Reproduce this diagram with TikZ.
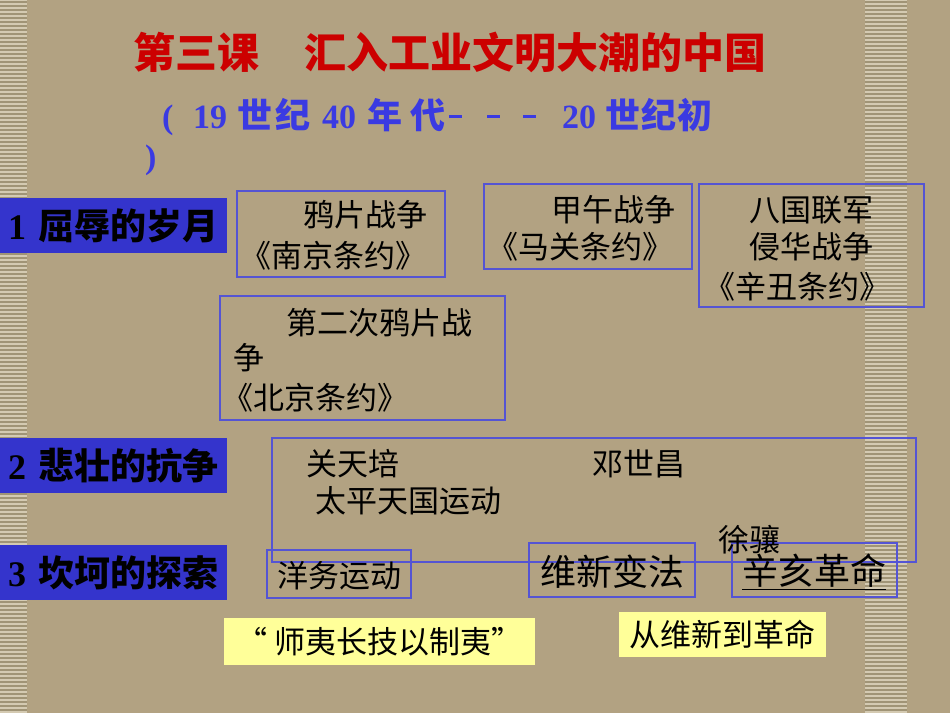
\documentclass[tikz,border=0pt]{standalone}
\usepackage{fontspec}
\setmainfont{Liberation Serif}
\newfontfamily\cjk[RawFeature=+halt]{Noto Sans CJK SC}
\usetikzlibrary{positioning}

\definecolor{bgtan}{RGB}{178,162,130}
\definecolor{stripetan}{RGB}{212,202,178}
\definecolor{stripeline}{RGB}{160,148,118}
\definecolor{labelblue}{RGB}{52,52,204}
\definecolor{boxblue}{RGB}{84,84,212}
\definecolor{titlered}{RGB}{204,0,0}
\definecolor{subblue}{RGB}{58,58,226}
\definecolor{noteyellow}{RGB}{255,255,153}

% one piece of the period line, set in a box of given width
\newcommand{\pc}[2]{\makebox[#1pt][l]{#2}}
\newcommand{\zh}[2]{\makebox[#1pt][l]{\cjk\fontsize{35}{40}\selectfont #2}}
\newcommand{\dsh}{\rule[10pt]{13pt}{3pt}}

\tikzset{
	labelbox/.style={fill=labelblue, anchor=north west, minimum width=227pt, minimum height=55pt,
		inner xsep=8pt, inner ysep=0pt, text width=211pt, align=left, font=\fontsize{36}{40}\selectfont\bfseries},
	eventbox/.style={draw=boxblue, line width=1.1pt, inner sep=0pt},
	notebox/.style={fill=noteyellow, inner sep=0pt, font=\cjk\fontsize{31}{36}\selectfont},
	evtext/.style={anchor=west, inner sep=0pt, font=\cjk\fontsize{31}{36}\selectfont},
	bigtext/.style={anchor=west, inner sep=0pt, font=\cjk\fontsize{36}{40}\selectfont},
}

\begin{document}
\begin{tikzpicture}[x=1pt,y=-1pt]
	\useasboundingbox (0,0) rectangle (950,713);
	\fill[bgtan] (0,0) rectangle (950,713);
	% striped side bands
	\fill[stripetan] (0,0) rectangle (27,713);
	\fill[stripetan] (865,0) rectangle (907,713);
	\foreach \y in {2,6,...,713} {
		\draw[stripeline, line width=1.6pt] (0,\y) -- (27,\y);
		\draw[stripeline, line width=1.6pt] (865,\y) -- (907,\y);
	}

	% title
	\node[anchor=west, inner sep=0pt, text=titlered, font=\cjk\fontsize{42}{46}\selectfont\bfseries] (title)
		at (133,52) {第三课\hspace{45pt}汇入工业文明大潮的中国};
	\node[anchor=north west, inner sep=0pt, align=left, text=subblue, font=\fontsize{34}{40}\selectfont\bfseries] (period)
		at (145,98) {\hspace*{17pt}\pc{31}{(}\pc{44}{19}\zh{38}{世}\zh{47}{纪}\pc{45}{40}\zh{43}{年}\zh{39}{代}%
		\pc{113}{\dsh\hspace{25pt}\dsh\hspace{23pt}\dsh}\pc{43}{20}\zh{36}{世}\zh{36}{纪}\zh{36}{初}\\)};

	% left labels
	\node[labelbox] (lab1) at (0,198) {1 {\cjk 屈辱的岁月}};
	\node[labelbox] (lab2) at (0,438) {2 {\cjk 悲壮的抗争}};
	\node[labelbox] (lab3) at (0,545) {3 {\cjk 坎坷的探索}};

	% boxes
	\node[eventbox, minimum width=208pt, minimum height=86pt] (opium) at (341,234) {};
	\node[eventbox, minimum width=208pt, minimum height=85pt] (jiawu) at (588,226.5) {};
	\node[eventbox, minimum width=225pt, minimum height=123pt] (baguo) at (811.5,245.5) {};
	\node[eventbox, minimum width=285pt, minimum height=124pt] (opium2) at (362.5,358) {};
	\node[eventbox, minimum width=644pt, minimum height=124pt] (resist) at (594,500) {};
	\node[eventbox, minimum width=144pt, minimum height=48pt] (yangwu) at (339,574) {};
	\node[eventbox, minimum width=166pt, minimum height=54pt] (weixin) at (612,570) {};
	\node[eventbox, minimum width=165pt, minimum height=54pt] (xinhai) at (814.5,570) {};

	% texts in the boxes
	\node[evtext] (opiumA) at (303,215) {鸦片战争};
	\node[evtext] (opiumB) at (256,256) {《南京条约》};
	\node[evtext] (jiawuA) at (551,210) {甲午战争};
	\node[evtext] (jiawuB) at (503,247) {《马关条约》};
	\node[evtext] (baguoA) at (749,210) {八国联军};
	\node[evtext] (baguoB) at (749,247) {侵华战争};
	\node[evtext] (baguoC) at (720,287) {《辛丑条约》};
	\node[evtext] (opium2A) at (286,323) {第二次鸦片战};
	\node[evtext] (opium2B) at (233,358) {争};
	\node[evtext] (opium2C) at (238,398) {《北京条约》};
	\node[evtext] (guan) at (306,464) {关天培};
	\node[evtext] (deng) at (592,464) {邓世昌};
	\node[evtext] (taiping) at (315,501) {太平天国运动};
	\node[evtext] (xu) at (718,540) {徐骧};
	\node[evtext] (yangwuT) at (277,576) {洋务运动};
	\node[bigtext] (weixinT) at (540,572) {维新变法};
	\node[bigtext] (xinhaiT) at (742,572) {\underline{辛亥革命}};

	% yellow notes
	\node[notebox, minimum width=311pt, minimum height=47pt] (shiyi) at (379.5,641.5) {“ 师夷长技以制夷”};
	\node[notebox, minimum width=207pt, minimum height=45pt] (cong) at (722.5,634.5) {从维新到革命};
\end{tikzpicture}
\end{document}
